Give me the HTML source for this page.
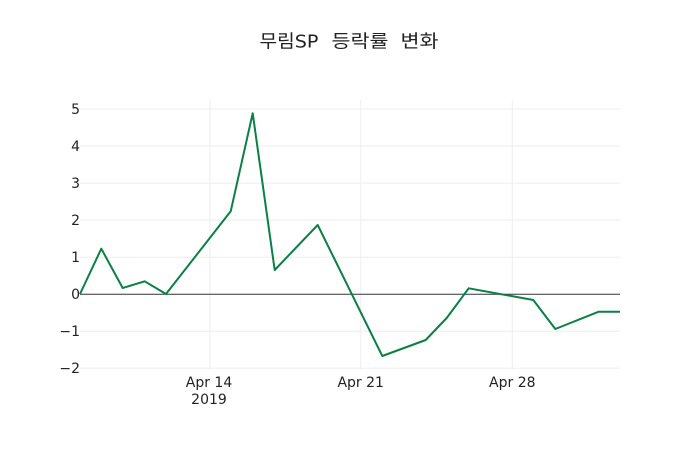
<!DOCTYPE html>
<html><head><meta charset="utf-8"><style>
html,body{margin:0;padding:0;background:#fff;}
svg{display:block;}
text{font-family:"DejaVu Sans","Noto Sans CJK KR",sans-serif;fill:#222;}
</style></head><body>
<svg width="700" height="450" viewBox="0 0 700 450" xmlns="http://www.w3.org/2000/svg">
<rect width="700" height="450" fill="#fff"/>
<g stroke="#eee" stroke-width="1">
<line x1="80" x2="620" y1="109" y2="109"/>
<line x1="80" x2="620" y1="146.1" y2="146.1"/>
<line x1="80" x2="620" y1="183.1" y2="183.1"/>
<line x1="80" x2="620" y1="220.1" y2="220.1"/>
<line x1="80" x2="620" y1="257.2" y2="257.2"/>
<line x1="80" x2="620" y1="331.3" y2="331.3"/>
<line x1="80" x2="620" y1="368.3" y2="368.3"/>
<line x1="210" x2="210" y1="100" y2="370"/>
<line x1="360.7" x2="360.7" y1="100" y2="370"/>
<line x1="512.3" x2="512.3" y1="100" y2="370"/>
</g>
<line x1="80" x2="620" y1="294.2" y2="294.2" stroke="#333" stroke-width="1"/>
<polyline fill="none" stroke="#0b7f45" stroke-width="2" stroke-linejoin="round" points="80,294 101.3,248.7 122.7,288 144.7,281.3 166,294 230.7,211.3 252.7,113.3 274.7,270 317.7,225 382.3,356 425.7,340 446.7,318 468.7,288.3 533.3,300 555.3,329 598.7,311.7 620,311.7"/>
<g font-size="14" text-anchor="end">
<text x="80" y="114">5</text>
<text x="80" y="151">4</text>
<text x="80" y="188">3</text>
<text x="80" y="225">2</text>
<text x="80" y="262">1</text>
<text x="80" y="299">0</text>
<text x="80" y="336">−1</text>
<text x="80" y="373">−2</text>
</g>
<g font-size="14" text-anchor="middle">
<text x="209" y="387">Apr 14</text>
<text x="209" y="404">2019</text>
<text x="360.7" y="387">Apr 21</text>
<text x="512.3" y="387">Apr 28</text>
</g>
<g font-size="18">
<text x="259.5" y="47.5" textLength="59" lengthAdjust="spacingAndGlyphs">무림SP</text>
<text x="331.5" y="47.5" textLength="57" lengthAdjust="spacingAndGlyphs">등락률</text>
<text x="400.5" y="47.5" textLength="38" lengthAdjust="spacingAndGlyphs">변화</text>
</g>
</svg>
</body></html>
